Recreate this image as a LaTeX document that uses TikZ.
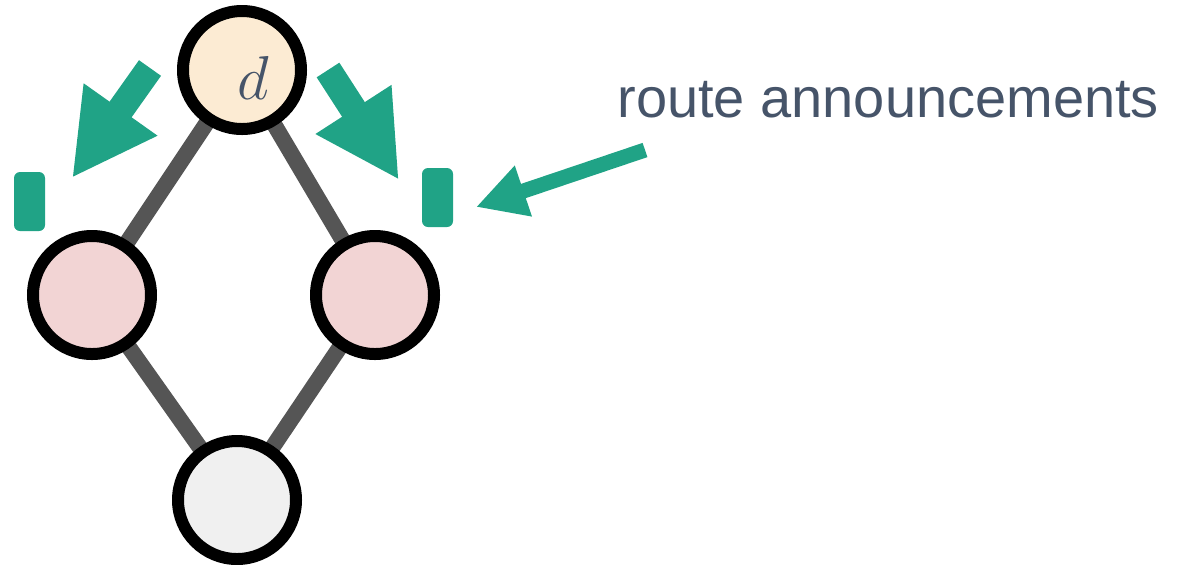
\RequirePackage{fix-cm}
\documentclass[tikz,border=0pt]{standalone}
\usepackage{fontspec}
\setmainfont{Liberation Sans}
\usepackage{tikz}
\usetikzlibrary{arrows.meta,backgrounds}
\definecolor{annGreen}{HTML}{20A386}
\definecolor{linkGray}{HTML}{555555}
\definecolor{textSlate}{HTML}{465469}
\definecolor{destFill}{HTML}{FCEBD3}
\definecolor{hopFill}{HTML}{F2D4D4}
\definecolor{srcFill}{HTML}{F0F0F0}

\begin{document}
\begin{tikzpicture}[x=0.5pt, y=-0.5pt,
  router/.style={circle, draw=black, line width=6pt, minimum size=59pt, inner sep=0pt},
  link/.style={draw=linkGray, line width=8pt},
  announce/.style={draw=annGreen, line width=13.5pt, -{Triangle[length=42pt, width=42pt]}},
  pointer/.style={draw=annGreen, line width=7.5pt, -{Triangle[length=25pt, width=25pt]}},
  msg/.style={rectangle, fill=annGreen, rounded corners=3pt, minimum width=15.5pt, minimum height=29.5pt, inner sep=0pt}]
  \useasboundingbox (0,0) rectangle (1181,564);
  \node[router, fill=destFill,
    label={[text=textSlate, font=\fontsize{31}{31}\selectfont, xshift=5.5pt, yshift=-4pt]center:$d$}] (d) at (242,70) {};
  \node[router, fill=hopFill] (hl) at (92,295) {};
  \node[router, fill=hopFill] (hr) at (375,295) {};
  \node[router, fill=srcFill] (s) at (237,500) {};
  \begin{pgfonlayer}{background}
    \foreach \a/\b in {d/hl, d/hr, hl/s, hr/s}
      \draw[link] (\a.center) -- (\b.center);
  \end{pgfonlayer}
  \node[msg] (ml) at (29.5,201.5) {};
  \node[msg] (mr) at (437.5,197.5) {};
  \coordinate (al0) at (150,68);
  \coordinate (al1) at (72,178);
  \coordinate (ar0) at (328,70);
  \coordinate (ar1) at (399,180);
  \coordinate (ap0) at (645,150);
  \coordinate (ap1) at (476,207);
  \draw[announce] (al0) -- (al1);
  \draw[announce] (ar0) -- (ar1);
  \draw[pointer] (ap0) -- (ap1);
  \node[anchor=base west, inner sep=0pt, text=textSlate, font=\fontsize{28}{30}\selectfont] (ann) at (617,117) {route announcements};
\end{tikzpicture}
\end{document}
